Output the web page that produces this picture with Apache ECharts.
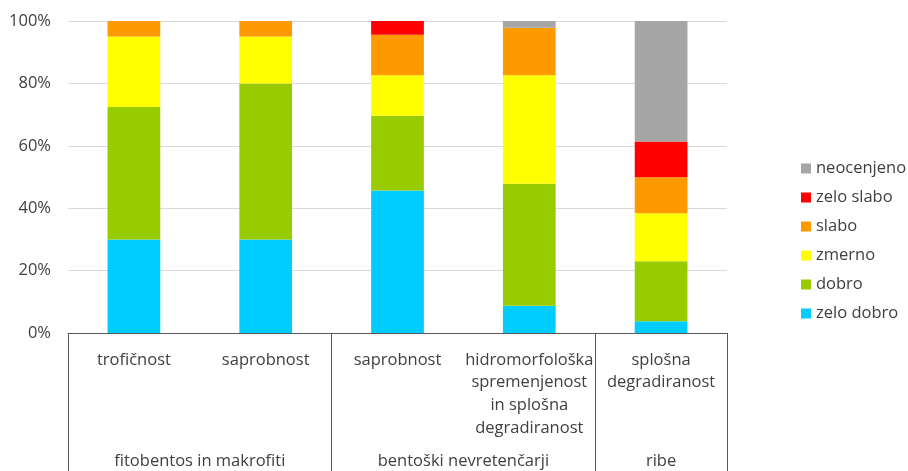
<!DOCTYPE html>
<html>
<head>
<meta charset="utf-8">
<script src="https://cdn.jsdelivr.net/npm/echarts@6/dist/echarts.min.js"></script>
<style>
  html, body { margin: 0; padding: 0; background: #fff; }
  #chart { width: 908px; height: 471px; }
</style>
</head>
<body>
<div id="chart"></div>
<script>
// categories (lower level) and groups (upper level)
const categories = ['trofičnost', 'saprobnost', 'saprobnost', 'hidromorfološka\nspremenjenost\nin splošna\ndegradiranost', 'splošna\ndegradiranost']
const groups = ['fitobentos in makrofiti', 'bentoški nevretenčarji', 'ribe']
// group spans, in number of categories
const groupSizes = [2, 2, 1]

// share of each class (%)
const zeloDobro = [30, 30, 45.7, 8.7, 3.8]
const dobro = [42.4, 50, 23.9, 39.1, 19.2]
const zmerno = [22.6, 15, 13.0, 34.8, 15.4]
const slabo = [5, 5, 13.0, 15.2, 11.5]
const zeloSlabo = [0, 0, 4.4, 0, 11.5]
const neocenjeno = [0, 0, 0, 2.2, 38.6]

const yTicks = [0, 20, 40, 60, 80, 100]

const seriesDefs = [
    { name: 'zelo dobro', data: zeloDobro, color: '#00CCFF' },
    { name: 'dobro', data: dobro, color: '#99CC00' },
    { name: 'zmerno', data: zmerno, color: '#FFFF00' },
    { name: 'slabo', data: slabo, color: '#FF9900' },
    { name: 'zelo slabo', data: zeloSlabo, color: '#FF0000' },
    { name: 'neocenjeno', data: neocenjeno, color: '#A6A6A6' },
]

// boundaries and centres of the groups on a 0..n scale
const groupEdges = [0]
const groupCentres = []
groupSizes.forEach((s, i) => {
    const start = groupEdges[i]
    groupEdges.push(start + s)
    groupCentres.push(start + s / 2)
})

const font = '"Open Sans", "Noto Sans", sans-serif'
const fontSize = 16.5
const textColor = '#404040'
const lineColor = '#595959'
const gridBox = { left: 68, right: 181, top: 21, bottom: 138, outerBoundsMode: 'none' }

const chart = echarts.init(document.getElementById('chart'))
chart.setOption({
    animation: false,
    textStyle: { fontFamily: font },
    grid: [
        Object.assign({}, gridBox),
        Object.assign({}, gridBox),
    ],
    legend: {
        orient: 'vertical',
        left: 796,
        top: 155,
        itemWidth: 10,
        itemHeight: 10,
        itemGap: 12,
        icon: 'rect',
        data: seriesDefs.map(s => s.name).reverse(),
        textStyle: { fontSize: fontSize, lineHeight: 16, color: textColor, fontFamily: font },
    },
    xAxis: [
        {
            type: 'category',
            gridIndex: 0,
            data: categories,
            axisLine: { lineStyle: { color: lineColor, width: 1 } },
            axisTick: { show: false },
            axisLabel: {
                interval: 0,
                margin: 15.5,
                fontSize: fontSize,
                lineHeight: 22.7,
                color: textColor,
                verticalAlign: 'top',
                fontFamily: font,
            },
        },
        {
            type: 'value',
            gridIndex: 1,
            position: 'bottom',
            min: 0,
            max: categories.length,
            splitLine: { show: false },
            axisLine: { show: false },
            axisTick: {
                show: true,
                length: 138,
                customValues: groupEdges,
                lineStyle: { color: lineColor, width: 1 },
            },
            axisLabel: {
                customValues: groupCentres,
                margin: 117,
                fontSize: fontSize,
                lineHeight: 23,
                color: textColor,
                verticalAlign: 'top',
                fontFamily: font,
                formatter: v => groups[groupCentres.indexOf(v)],
            },
        },
    ],
    yAxis: [
        {
            type: 'value',
            gridIndex: 0,
            min: yTicks[0],
            max: yTicks[yTicks.length - 1],
            interval: 20,
            axisLine: { show: false },
            axisTick: { show: false },
            splitLine: { lineStyle: { color: '#D9D9D9', width: 1 } },
            axisLabel: {
                formatter: '{value}%',
                fontSize: fontSize,
                margin: 17,
                color: textColor,
                fontFamily: font,
            },
        },
        {
            type: 'value',
            gridIndex: 1,
            show: false,
            min: 0,
            max: 100,
        },
    ],
    series: seriesDefs.map(s => ({
        type: 'bar',
        name: s.name,
        stack: 'total',
        xAxisIndex: 0,
        yAxisIndex: 0,
        barWidth: '40%',
        data: s.data,
        itemStyle: { color: s.color },
    })),
})
</script>
</body>
</html>
